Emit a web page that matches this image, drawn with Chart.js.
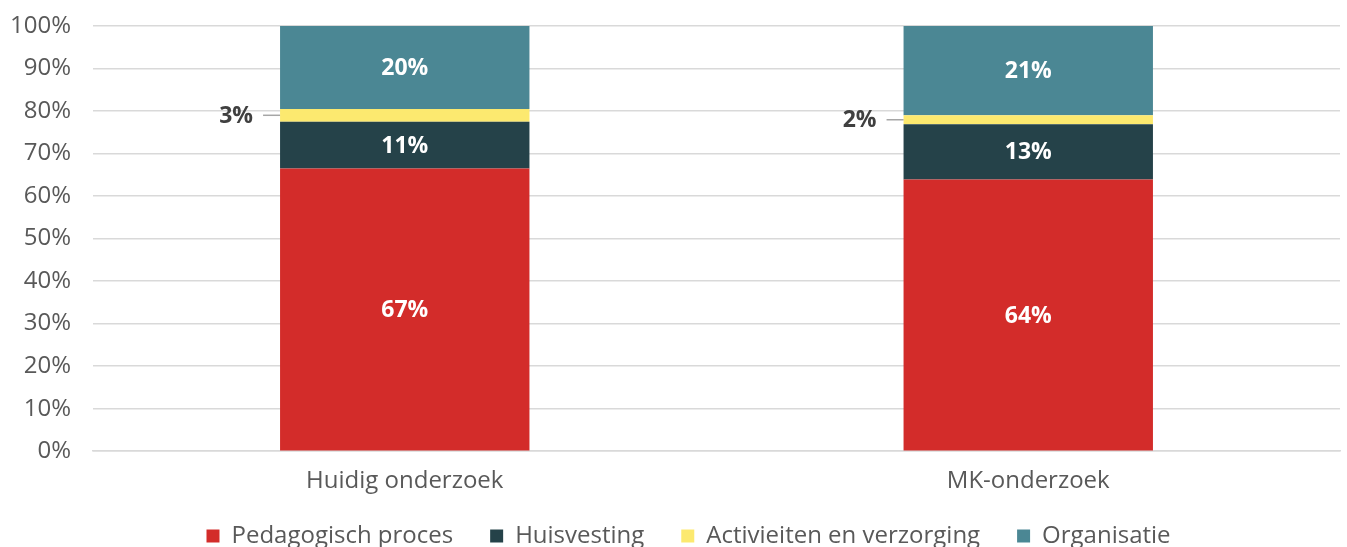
<!DOCTYPE html>
<html>
<head>
<meta charset="utf-8">
<script src="https://cdn.jsdelivr.net/npm/chart.js@4"></script>
<style>
  html, body { margin: 0; padding: 0; background: #fff; overflow: hidden; }
  #wrap { width: 1347px; height: 547px; }
</style>
</head>
<body>
<div id="wrap"><canvas id="myChart" width="1347" height="547"></canvas></div>
<script>
// data (percent of total)
const categories = ['Huidig onderzoek', 'MK-onderzoek'];
const seriesNames = ['Pedagogisch proces', 'Huisvesting', 'Activieiten en verzorging', 'Organisatie'];
const pedagogisch = [66.5, 63.9];
const huisvesting = [11.0, 13.0];
const activiteiten = [3.0, 2.1];
const organisatie = [19.5, 21.0];
const yTicks = [0, 10, 20, 30, 40, 50, 60, 70, 80, 90, 100];

const colors = ['#d32c2a', '#254249', '#fce96f', '#4b8794'];
const allValues = [pedagogisch, huisvesting, activiteiten, organisatie];

const fontName = '"Open Sans", Lato, sans-serif';

// labels: inside the bar in white, small ones outside with a leader line
const barLabels = {
  id: 'barLabels',
  afterLayout(chart) {
    // nudge the legend a bit to the right, like the original
    chart.legend.left += 37;
    chart.legend.right += 37;
  },
  afterDatasetsDraw(chart) {
    const ctx = chart.ctx;
    ctx.save();
    ctx.font = 'bold 23px ' + fontName;
    ctx.textBaseline = 'middle';
    chart.data.datasets.forEach((ds, i) => {
      const meta = chart.getDatasetMeta(i);
      meta.data.forEach((bar, j) => {
        const v = ds.data[j];
        const txt = Math.round(v) + '%';
        const y = (bar.y + bar.base) / 2;
        if (v >= 5) {
          ctx.fillStyle = '#ffffff';
          ctx.textAlign = 'center';
          ctx.fillText(txt, bar.x, y + 1);
        } else {
          const left = bar.x - bar.width / 2;
          ctx.strokeStyle = '#a6a6a6';
          ctx.lineWidth = 1.5;
          ctx.beginPath();
          ctx.moveTo(left - 17, y);
          ctx.lineTo(left, y);
          ctx.stroke();
          ctx.fillStyle = '#404040';
          ctx.textAlign = 'right';
          ctx.fillText(txt, left - 27, y + 1);
        }
      });
    });
    ctx.restore();
  }
};

const ctx = document.getElementById('myChart');
const myChart = new Chart(ctx, {
  type: 'bar',
  data: {
    labels: categories,
    datasets: seriesNames.map((name, i) => ({
      label: name,
      data: allValues[i],
      backgroundColor: colors[i],
      borderWidth: 0,
      barPercentage: 0.8,
      categoryPercentage: 0.5
    }))
  },
  options: {
    responsive: false,
    animation: false,
    layout: { padding: { left: -12, right: 7, top: 26, bottom: -11 } },
    plugins: {
      legend: {
        position: 'bottom',
        labels: {
          font: { family: fontName, size: 24 },
          color: '#595959',
          boxWidth: 13,
          boxHeight: 13,
          padding: 12,
          generateLabels(chart) {
            const items = Chart.defaults.plugins.legend.labels.generateLabels(chart);
            items.forEach(it => { it.text = it.text + '    '; });
            return items;
          }
        }
      },
      tooltip: { enabled: false }
    },
    scales: {
      x: {
        stacked: true,
        grid: { display: false, drawTicks: false },
        border: { color: '#d9d9d9', width: 1.5 },
        ticks: {
          font: { family: fontName, size: 24 },
          color: '#595959',
          padding: 16
        }
      },
      y: {
        stacked: true,
        min: 0,
        max: 100,
        afterBuildTicks(axis) {
          axis.ticks = yTicks.map(v => ({ value: v }));
        },
        afterFit(axis) {
          axis.paddingTop = 0;
        },
        grid: { color: '#d9d9d9', lineWidth: 1.5, drawTicks: false },
        border: { display: false },
        ticks: {
          font: { family: fontName, size: 24 },
          color: '#595959',
          padding: 22,
          callback: v => v + '%'
        }
      }
    }
  },
  plugins: [barLabels]
});
</script>
</body>
</html>
